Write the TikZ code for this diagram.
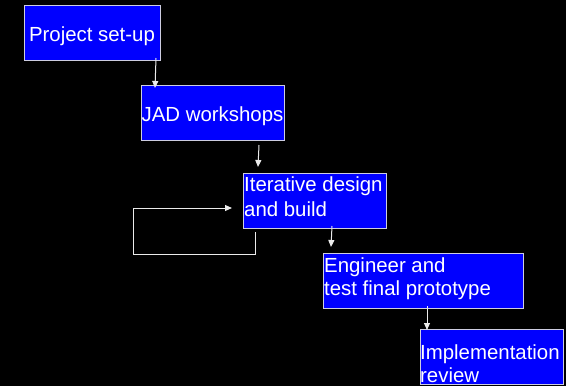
\documentclass[tikz,border=0pt]{standalone}
\usepackage{fontspec}
\setmainfont{Liberation Sans}
\usetikzlibrary{arrows.meta}
\definecolor{boxblue}{RGB}{0,0,255}
\definecolor{edgegray}{RGB}{205,205,225}
\definecolor{linegray}{RGB}{235,235,235}
\begin{document}
\begin{tikzpicture}[x=1pt,y=-1pt,
  box/.style={draw=edgegray, fill=boxblue, line width=1pt, minimum height=55pt, inner sep=0pt, anchor=north west},
  txt/.style={text=white, inner sep=0pt, font=\fontsize{20.4}{25}\selectfont},
  conn/.style={draw=linegray, line width=1pt, -{Triangle[length=7pt,width=6pt]}}]
\fill[black] (0,0) rectangle (566,386);
\useasboundingbox (0,0) rectangle (566,386);
% boxes
\node[box, minimum width=136pt] (b1) at (24,5) {};
\node[box, minimum width=143pt] (b2) at (141,85) {};
\node[box, minimum width=143pt] (b3) at (243,173) {};
\node[box, minimum width=200pt] (b4) at (323,253) {};
\node[box, minimum width=143pt] (b5) at (420,329) {};
% texts
\node[txt, anchor=base] (t1) at (92,41) {Project set-up};
\node[txt, anchor=base] (t2) at (212.5,121) {JAD workshops};
\node[txt, anchor=base west] (t3a) at (244,191) {Iterative design};
\node[txt, anchor=base west] (t3b) at (244,216) {and build};
\node[txt, anchor=base west] (t4a) at (324,272) {Engineer and};
\node[txt, anchor=base west] (t4b) at (324,295) {test final prototype};
\node[txt, anchor=base west] (t5a) at (420,359) {Implementation};
\node[txt, anchor=base west] (t5b) at (420,382) {review};
% connectors
\draw[conn] ([xshift=-5pt,yshift=3pt]b1.south east) -- ([xshift=14pt,yshift=-3pt]b2.north west);
\draw[conn] ([xshift=-26pt,yshift=-4pt]b2.south east) -- ([xshift=15pt,yshift=6pt]b3.north west);
\draw[conn] ([xshift=-55pt,yshift=3pt]b3.south east) -- ([xshift=8pt,yshift=6pt]b4.north west);
\draw[conn] ([xshift=-97pt,yshift=3pt]b4.south east) -- ([xshift=7pt,yshift=-1pt]b5.north west);
\coordinate (l1) at ([xshift=12pt,yshift=-3pt]b3.south west);
\coordinate (l2) at (255,254);
\coordinate (l3) at (133,254);
\coordinate (l4) at (133,208);
\coordinate (l5) at ([xshift=-11pt]b3.west |- l4);
\draw[conn] (l1) -- (l2) -- (l3) -- (l4) -- (l5);
\end{tikzpicture}
\end{document}
